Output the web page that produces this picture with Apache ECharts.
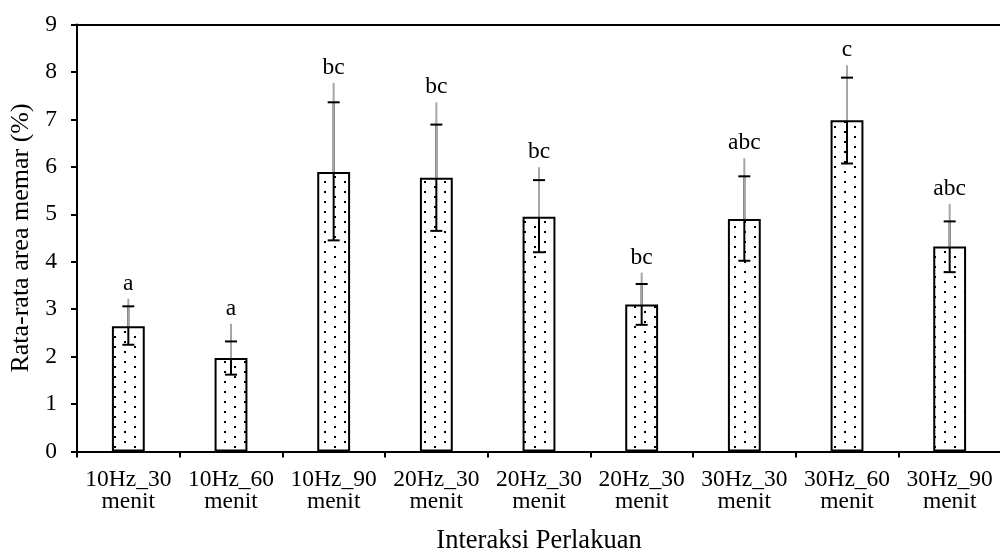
<!DOCTYPE html>
<html>
<head>
<meta charset="utf-8">
<script src="https://cdn.jsdelivr.net/npm/echarts@6/dist/echarts.min.js"></script>
<style>
html,body{margin:0;padding:0;background:#fff;}
#chart{width:1000px;height:554px;}
</style>
</head>
<body>
<div id="chart"></div>
<script>
const categories = ["10Hz_30\nmenit","10Hz_60\nmenit","10Hz_90\nmenit","20Hz_30\nmenit","20Hz_30\nmenit","20Hz_30\nmenit","30Hz_30\nmenit","30Hz_60\nmenit","30Hz_90\nmenit"];
const means    = [2.64, 1.97, 5.89, 5.77, 4.95, 3.10, 4.90, 6.98, 4.32];
const errHigh  = [3.06, 2.32, 7.36, 6.89, 5.72, 3.53, 5.80, 7.88, 4.85];
const errLow   = [2.25, 1.62, 4.45, 4.65, 4.20, 2.67, 4.02, 6.07, 3.78];
const grayTop  = [3.22, 2.69, 7.77, 7.36, 5.99, 3.77, 6.18, 8.14, 5.22];
const letters  = ["a", "a", "bc", "bc", "bc", "bc", "abc", "c", "abc"];
const yTicks   = [0, 1, 2, 3, 4, 5, 6, 7, 8, 9];

const FONT = '"Liberation Serif", "Times New Roman", serif';

// dotted fill pattern
const pat = document.createElement('canvas');
pat.width = 20; pat.height = 10;
const pc = pat.getContext('2d');
pc.fillStyle = '#fff'; pc.fillRect(0, 0, 20, 10);
pc.fillStyle = '#000';
pc.fillRect(4, 1, 2, 2);
pc.fillRect(14, 6, 2, 2);

const errData = categories.map((c, i) => [i, means[i], errLow[i], errHigh[i], grayTop[i]]);

const chart = echarts.init(document.getElementById('chart'), null, {renderer: 'canvas'});
chart.setOption({
  animation: false,
  backgroundColor: '#fff',
  grid: {left: 77, top: 24.5, width: 924, bottom: 102.5, containLabel: false, outerBoundsMode: 'none'},
  xAxis: [{
    type: 'category',
    data: categories,
    boundaryGap: true,
    axisLine: {lineStyle: {color: '#000', width: 2}},
    axisTick: {show: true, alignWithLabel: false, length: 6, lineStyle: {color: '#000', width: 2}},
    axisLabel: {color: '#000', fontFamily: FONT, fontSize: 23.5, lineHeight: 22, margin: 17, interval: 0},
    name: 'Interaksi Perlakuan',
    nameLocation: 'middle',
    nameGap: 76,
    nameTextStyle: {color: '#000', fontFamily: FONT, fontSize: 26.5}
  }, {
    type: 'category',
    data: categories,
    position: 'top',
    axisLine: {show: true, lineStyle: {color: '#000', width: 2}},
    axisTick: {show: false},
    axisLabel: {show: false}
  }],
  yAxis: {
    type: 'value',
    min: 0, max: 9, interval: 1,
    axisLine: {show: true, lineStyle: {color: '#000', width: 2}},
    axisTick: {show: true, length: 6, lineStyle: {color: '#000', width: 2}},
    splitLine: {show: false},
    axisLabel: {color: '#000', fontFamily: FONT, fontSize: 23.5, margin: 20,
      formatter: v => yTicks.includes(v) ? String(v) : ''},
    name: 'Rata-rata area memar (%)',
    nameLocation: 'middle',
    nameGap: 39,
    nameRotate: 90,
    nameTextStyle: {color: '#000', fontFamily: FONT, fontSize: 26}
  },
  series: [{
    type: 'bar',
    data: means,
    barWidth: '32%',
    itemStyle: {color: {image: pat, repeat: 'repeat'}, borderColor: '#000', borderWidth: 2},
    z: 2
  }, {
    type: 'custom',
    data: errData,
    z: 5,
    renderItem: function (params, api) {
      const i = api.value(0);
      const pm = api.coord([i, api.value(1)]);
      const pl = api.coord([i, api.value(2)]);
      const ph = api.coord([i, api.value(3)]);
      const pg = api.coord([i, api.value(4)]);
      const x = pm[0];
      const cw = 6;
      return {
        type: 'group',
        children: [
          {type: 'line', shape: {x1: x, y1: pl[1], x2: x, y2: ph[1]}, style: {stroke: '#000', lineWidth: 2}},
          {type: 'line', shape: {x1: x, y1: pm[1], x2: x, y2: pg[1]}, style: {stroke: '#a6a6a6', lineWidth: 2}},
          {type: 'line', shape: {x1: x - cw, y1: ph[1], x2: x + cw, y2: ph[1]}, style: {stroke: '#000', lineWidth: 2}},
          {type: 'line', shape: {x1: x - cw, y1: pl[1], x2: x + cw, y2: pl[1]}, style: {stroke: '#000', lineWidth: 2}},
          {type: 'text', x: x, y: pg[1] - 3, style: {text: letters[params.dataIndex], fill: '#000',
            font: '23.5px ' + FONT, align: 'center', verticalAlign: 'bottom'}}
        ]
      };
    }
  }]
});
</script>
</body>
</html>
